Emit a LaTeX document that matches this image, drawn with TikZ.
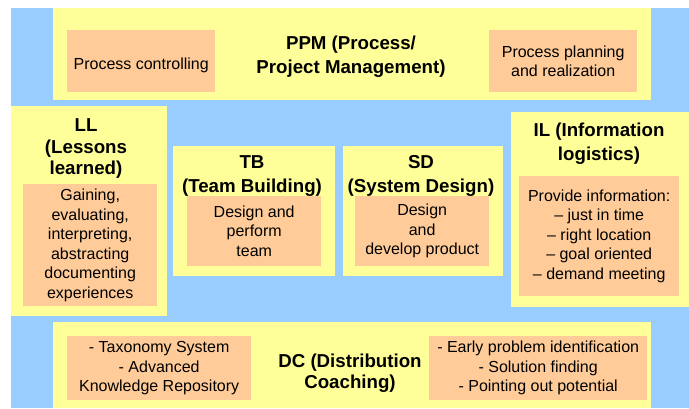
\documentclass[tikz,border=0pt]{standalone}
\usepackage{fontspec}
\setmainfont{Liberation Sans}
\usepackage{xcolor}
\usetikzlibrary{positioning}

\definecolor{bgblue}{HTML}{99CCFF}
\definecolor{areayellow}{HTML}{FFFF99}
\definecolor{taskorange}{HTML}{FFCC99}

\begin{document}
\begin{tikzpicture}[x=1pt, y=-1pt,
    area/.style={fill=areayellow, inner sep=0pt, anchor=north west},
    task/.style={fill=taskorange, inner sep=0pt, anchor=north west, align=center,
        font=\fontsize{16}{19.5}\selectfont,
        execute at begin node={\rule{0pt}{19.5pt}}},
    head/.style={align=center, inner sep=0pt, font=\bfseries\fontsize{18.7}{24}\selectfont},
    headtight/.style={head, font=\bfseries\fontsize{18.7}{21.5}\selectfont}]

    % Hintergrund
    \useasboundingbox (0,0) rectangle (689,408);
    \fill[bgblue] (11,8) rectangle (689,408);

    % Bereiche
    \node[area, minimum width=598pt, minimum height=91.5pt] (ppm) at (53,8) {};
    \node[area, minimum width=156pt, minimum height=210pt] (ll) at (11,106) {};
    \node[area, minimum width=162pt, minimum height=130pt] (tb) at (173,146) {};
    \node[area, minimum width=160pt, minimum height=130pt] (sd) at (343,146) {};
    \node[area, minimum width=178pt, minimum height=195pt] (il) at (511,112) {};
    \node[area, minimum width=598pt, minimum height=86pt] (dc) at (53,322) {};

    % Aufgaben
    \node[task, minimum width=148pt, minimum height=62pt] (pc) at (67,30) {Process controlling};
    \node[task, minimum width=148pt, minimum height=62pt] (ppr) at (489,30) {Process planning\\and realization};
    \node[task, minimum width=134pt, minimum height=122pt] (llt) at (23,184)
        {Gaining,\\evaluating,\\interpreting,\\abstracting\\documenting\\experiences};
    \node[task, minimum width=134pt, minimum height=70pt] (tbt) at (187,196) {Design and\\perform\\team};
    \node[task, minimum width=134pt, minimum height=70pt] (sdt) at (355,196) {Design\\and\\develop product};
    \node[task, minimum width=160pt, minimum height=120pt] (ilt) at (519,176)
        {Provide information:\\– just in time\\– right location\\– goal oriented\\– demand meeting};
    \node[task, minimum width=184pt, minimum height=64pt] (dck) at (67,336)
        {- Taxonomy System\\- Advanced\\Knowledge Repository};
    \node[task, minimum width=218pt, minimum height=64pt] (dcp) at (429,336)
        {- Early problem identification\\- Solution finding\\- Pointing out potential};

    % Ueberschriften
    \node[head] (ppmh) at (351,57) {PPM (Process/\\Project Management)};
    \node[headtight] (llh) at (86,149) {LL\\(Lessons\\learned)};
    \node[head] (tbh) at (252,176) {TB\\(Team Building)};
    \node[head] (sdh) at (421,176) {SD\\(System Design)};
    \node[head] (ilh) at (599,144) {IL (Information\\logistics)};
    \node[headtight] (dch) at (350,373) {DC (Distribution\\Coaching)};

\end{tikzpicture}
\end{document}
